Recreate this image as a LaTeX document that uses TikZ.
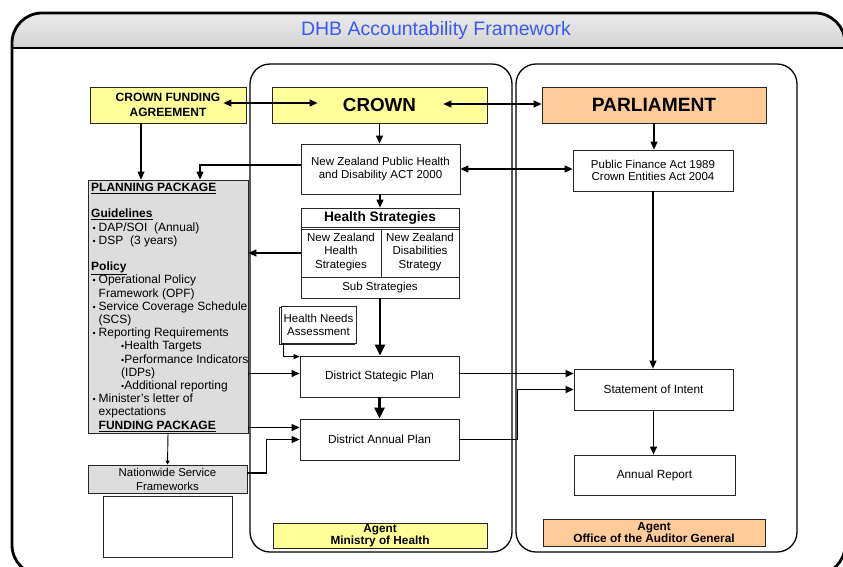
\documentclass[tikz,border=0pt]{standalone}
\usepackage{fontspec}
\setmainfont{Liberation Sans}
\usetikzlibrary{arrows.meta,shadows}
\definecolor{boxyellow}{HTML}{FFFF99}
\definecolor{boxorange}{HTML}{FFCC99}
\definecolor{pkggray}{HTML}{DDDDDD}
\definecolor{titleblue}{RGB}{60,90,240}
\newcommand{\smallbul}{\scalebox{0.75}{\textbullet}}
\newcommand{\pbul}{\makebox[7.5pt][l]{\hspace{1.5pt}\smallbul}}

\begin{document}
\begin{tikzpicture}[x=1pt,y=-1pt,
    box/.style={draw=black!85,line width=0.8pt,inner sep=1pt,align=center,font=\fontsize{11.8}{13}\selectfont},
    yellowbox/.style={box,fill=boxyellow},
    orangebox/.style={box,fill=boxorange},
    graybox/.style={box,fill=pkggray},
    agent/.style={font=\bfseries\fontsize{11.8}{12.5}\selectfont},
    panel/.style={draw,line width=1.3pt,rounded corners=20pt},
    arr/.style={-{Triangle[length=8pt,width=7pt]},line width=1.1pt},
    twoarr/.style={{Triangle[length=8pt,width=7pt]}-{Triangle[length=8pt,width=7pt]},line width=1.1pt},
    bigarr/.style={-{Triangle[length=11pt,width=10pt]},line width=2.4pt}]

  \useasboundingbox (0,0) rectangle (843,566);
  \clip (0,0) rectangle (843,566);

  \begin{scope}
    \clip[rounded corners=30pt] (12,13) rectangle (845,575);
    \shade[top color=gray!8,bottom color=gray!35] (0,0) rectangle (850,48);
  \end{scope}
  \draw[line width=2.8pt] (12,48) -- (845,48);
  \draw[line width=2.8pt,rounded corners=30pt] (12,13) rectangle (845,575);
  \node[text=titleblue,font=\fontsize{19.5}{21}\selectfont] (title) at (436,30) {DHB Accountability Framework};

  \draw[panel] (250,64) rectangle (512,552);
  \draw[panel] (516,64) rectangle (797,552);

  \node[yellowbox,minimum width=156pt,minimum height=36pt,font=\bfseries\fontsize{12}{14.5}\selectfont] (cfa) at (168,105) {CROWN FUNDING\\AGREEMENT};
  \node[yellowbox,minimum width=215pt,minimum height=36pt,font=\bfseries\fontsize{18.8}{20}\selectfont] (crown) at (379.5,105) {CROWN};
  \node[orangebox,minimum width=224pt,minimum height=36pt,font=\bfseries\fontsize{19.2}{20}\selectfont] (parl) at (654,105) {PARLIAMENT};
  \node[box,minimum width=159pt,minimum height=50pt,font=\fontsize{11.5}{12.5}\selectfont] (act) at (380.5,169) {New Zealand Public Health\\and Disability ACT 2000};
  \node[box,minimum width=160pt,minimum height=41pt,font=\fontsize{11.5}{12.5}\selectfont] (pfa) at (653,170.5) {Public Finance Act 1989\\Crown Entities Act 2004};

  \node[graybox,minimum width=160pt,minimum height=253pt] (pp) at (168,306.5) {};
  \node[anchor=north west,inner sep=0pt,align=left,font=\fontsize{12}{13.2}\selectfont] (pptext) at (91,183) {%
    \underline{\textbf{PLANNING PACKAGE}}\\[13.2pt]
    \underline{\textbf{Guidelines}}\\
    \pbul DAP/SOI\ \ (Annual)\\
    \pbul DSP\ \ (3 years)\\[13.2pt]
    \underline{\textbf{Policy}}\\
    \pbul Operational Policy\\
    \hspace*{7.5pt}Framework (OPF)\\
    \pbul Service Coverage Schedule\\
    \hspace*{7.5pt}(SCS)\\
    \pbul Reporting Requirements\\
    \hspace*{30pt}\smallbul Health Targets\\
    \hspace*{30pt}\smallbul Performance Indicators\\
    \hspace*{30pt}(IDPs)\\
    \hspace*{30pt}\smallbul Additional reporting\\
    \pbul Minister's letter of\\
    \hspace*{7.5pt}expectations\\
    \hspace*{7.5pt}\underline{\textbf{FUNDING PACKAGE}}};

  \node[box,minimum width=158pt,minimum height=90pt] (hs) at (380,253) {};
  \node[font=\bfseries\fontsize{13.7}{15}\selectfont] (hshead) at (380,217.5) {Health Strategies};
  \draw[draw=black!85,line width=0.8pt] (301,227) -- (459,227) (301,229) -- (459,229) (381,229) -- (381,277) (301,277) -- (459,277);
  \node[align=center,font=\fontsize{11.5}{13.3}\selectfont] (nzh) at (341,252) {New Zealand\\Health\\Strategies};
  \node[align=center,font=\fontsize{11.5}{13.3}\selectfont] (nzd) at (420,252) {New Zealand\\Disabilities\\Strategy};
  \node[font=\fontsize{11.5}{13}\selectfont] (sub) at (380,287.5) {Sub Strategies};

  \node[box,fill=white,minimum width=75pt,minimum height=37pt,font=\fontsize{11.5}{13}\selectfont,copy shadow={shadow xshift=-1.5pt,shadow yshift=-1.5pt}] (hna) at (318.5,324.5) {Health Needs\\Assessment};
  \node[box,minimum width=159pt,minimum height=41pt] (dsp) at (379.5,376.5) {District Stategic Plan};
  \node[box,minimum width=159pt,minimum height=41pt] (dap) at (379.5,439.5) {District Annual Plan};
  \node[box,minimum width=159pt,minimum height=41pt] (soi) at (653.5,389.5) {Statement of Intent};
  \node[box,minimum width=161pt,minimum height=40pt] (ar) at (654.5,475) {Annual Report};
  \node[graybox,minimum width=159pt,minimum height=28pt,font=\fontsize{11.4}{14}\selectfont] (nsf) at (167.5,479) {Nationwide Service\\Frameworks};
  \node[box,minimum width=129pt,minimum height=61pt] (blank) at (167.5,526.5) {};
  \node[yellowbox,agent,minimum width=214pt,minimum height=25pt] (moh) at (380,535.5) {Agent\\Ministry of Health};
  \node[orangebox,agent,minimum width=222pt,minimum height=27pt] (oag) at (654,532.5) {Agent\\Office of the Auditor General};

  \draw[twoarr,shorten <=-23pt,shorten >=-46pt] ([yshift=2pt]cfa.east) -- ([yshift=2pt]crown.west);
  \draw[twoarr,shorten <=-44pt] ([yshift=1pt]crown.east) -- ([yshift=1pt]parl.west);
  \draw[arr] (crown.south) -- (crown.south |- act.north);
  \draw[arr] (parl.south) -- (parl.south |- pfa.north);
  \draw[twoarr] (act.east) -- (act.east -| pfa.west);
  \draw[arr] ([yshift=4pt]act.west) -| ([xshift=32pt]pp.north);
  \draw[arr] (cfa.south) ++(-27,0) coordinate (cfadown) -- (cfadown |- pp.north);
  \draw[arr] (hs.north |- act.south) -- (hs.north);
  \draw[arr] (hs.west) -- (hs.west -| pp.east);
  \draw[bigarr] (hs.south) -- (hs.south |- dsp.north);
  \draw[-{Triangle[length=6pt,width=5pt]},line width=0.9pt] ([xshift=3pt]hna.south west) |- ([yshift=-1pt]dsp.north west);
  \coordinate (dspin) at ([yshift=3pt]dsp.west);
  \draw[arr] (pp.east |- dspin) -- (dspin);
  \coordinate (dapin) at ([yshift=12pt]dap.west);
  \draw[arr] (pp.east |- dapin) -- (dapin);
  \draw[arr] ([yshift=6pt]nsf.east) -- ++(19,0) |- (dap.west);
  \draw[-{Triangle[length=4pt,width=4pt]},line width=0.9pt] (pp.south) -- (nsf.north);
  \draw[bigarr] (dsp.south) -- (dsp.south |- dap.north);
  \coordinate (dspout) at ([yshift=3pt]dsp.east);
  \draw[arr] (dspout) -- (dspout -| soi.west);
  \draw[arr] (dap.east) -- ++(58,0) |- (soi.west);
  \draw[arr] (pfa.south) -- (pfa.south |- soi.north);
  \draw[arr] (soi.south) -- (soi.south |- ar.north);
\end{tikzpicture}
\end{document}
